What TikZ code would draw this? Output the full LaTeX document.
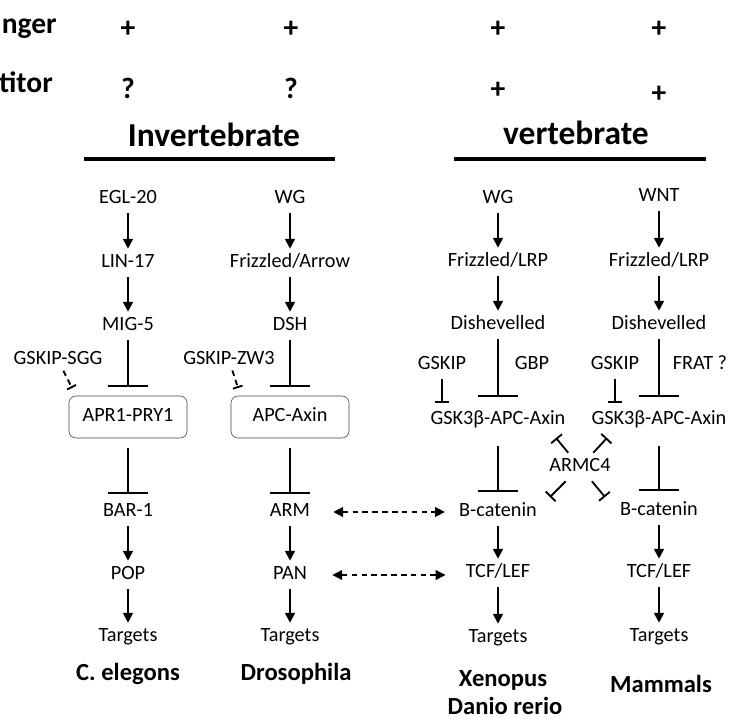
\documentclass[tikz,border=0pt]{standalone}
\usepackage{fontspec}
\setmainfont{Carlito}
\usetikzlibrary{arrows.meta, calc}

\begin{document}
\begin{tikzpicture}[
  every node/.style={font=\fontsize{14.4}{17}\selectfont},
  gene/.style={
    inner sep=0pt, text height=0.65em, text depth=0pt,
    minimum height=0.7cm
  },
  complex/.style={
    gene, draw=black!75, thin, rounded corners=5pt,
    minimum width=2.95cm, minimum height=1.05cm
  },
  heading/.style={font=\fontsize{23.8}{28}\selectfont\bfseries, anchor=base, inner sep=0pt},
  sign/.style={font=\fontsize{21}{25}\selectfont\bfseries, anchor=base, inner sep=0pt},
  species/.style={font=\fontsize{17.5}{21}\selectfont\bfseries, anchor=base, inner sep=0pt},
  act/.style={-{Triangle[width=7pt, length=7pt]}, line width=1.3pt},
  inh/.style={-{Bar[width=1cm]}, line width=1.3pt},
  inhs/.style={-{Bar[width=0.35cm]}, line width=1.3pt},
  inhd/.style={-{Bar[width=0.25cm]}, line width=1.3pt, dash pattern=on 4pt off 3pt},
  link/.style={
    {Triangle[width=7pt, length=7pt]}-{Triangle[width=7pt, length=7pt]},
    line width=1pt, dash pattern=on 4pt off 3pt
  },
  rule/.style={line width=2.5pt}
]
\useasboundingbox (0,0) rectangle (18.35,-17.975);

% ---- Row labels and signs (top) ----
\node[sign, anchor=base east] (rowA) at (1.425,-0.83) {nger};
\node[sign, anchor=base east] (rowB) at (1.325,-2.3) {titor};

\node[sign] (plusA) at (3.2,-0.925) {+};
\node[sign] (plusB) at (7.275,-0.925) {+};
\node[sign] (plusC) at (12.45,-0.925) {+};
\node[sign] (plusD) at (16.475,-0.925) {+};

\node[sign] (askA) at (3.2,-2.45) {?};
\node[sign] (askB) at (7.275,-2.45) {?};
\node[sign] (plusE) at (12.45,-2.45) {+};
\node[sign] (plusF) at (16.475,-2.55) {+};

% ---- Group headings ----
\node[heading] (invert) at (5.35,-3.65) {Invertebrate};
\node[heading] (vert) at (14.4,-3.62) {vertebrate};
\draw[rule] (2.1,-3.975) -- (8.375,-3.975);
\draw[rule] (11.35,-3.975) -- (17.65,-3.975);

% ---- C. elegons ----
\node[gene] (egl) at (3.2,-4.975) {EGL-20};
\node[gene] (lin) at (3.2,-6.575) {LIN-17};
\node[gene] (mig) at (3.2,-8.15) {MIG-5};
\node[gene] (sgg) at (1.45,-9.0) {GSKIP-SGG};
\node[complex] (apr) at (3.2,-10.425) {APR1-PRY1};
\node[gene] (bar) at (3.2,-12.8) {BAR-1};
\node[gene] (pop) at (3.2,-14.375) {POP};
\node[gene] (tgtA) at (3.2,-15.925) {Targets};
\node[species] (cel) at (3.2,-17.0) {C. elegons};

% ---- Drosophila ----
\node[gene] (wgA) at (7.25,-4.975) {WG};
\node[gene] (fzA) at (7.25,-6.575) {Frizzled/Arrow};
\node[gene] (dsh) at (7.25,-8.15) {DSH};
\node[gene] (zw3) at (5.725,-9.0) {GSKIP-ZW3};
\node[complex] (apc) at (7.25,-10.425) {APC-Axin};
\node[gene] (arm) at (7.25,-12.8) {ARM};
\node[gene] (pan) at (7.25,-14.375) {PAN};
\node[gene] (tgtB) at (7.25,-15.925) {Targets};
\node[species] (dro) at (7.4,-17.0) {Drosophila};

% ---- Xenopus / Danio rerio ----
\node[gene] (wgB) at (12.45,-4.975) {WG};
\node[gene] (fzB) at (12.45,-6.55) {Frizzled/LRP};
\node[gene] (dvB) at (12.45,-8.125) {Dishevelled};
\node[gene] (gskipB) at (11.05,-9.125) {GSKIP};
\node[gene] (gbp) at (13.3,-9.125) {GBP};
\node[gene] (gskB) at (12.45,-10.5) {GSK3β-APC-Axin};
\node[gene] (bcatB) at (12.45,-12.8) {B-catenin};
\node[gene] (tcfB) at (12.45,-14.325) {TCF/LEF};
\node[gene] (tgtC) at (12.45,-15.95) {Targets};
\node[species] (xen) at (12.575,-17.15) {Xenopus};
\node[species] (dan) at (12.625,-17.85) {Danio rerio};

% ---- Mammals ----
\node[gene] (wnt) at (16.475,-4.925) {WNT};
\node[gene] (fzC) at (16.475,-6.55) {Frizzled/LRP};
\node[gene] (dvC) at (16.475,-8.125) {Dishevelled};
\node[gene] (gskipC) at (15.375,-9.125) {GSKIP};
\node[gene] (frat) at (17.5,-9.125) {FRAT ?};
\node[gene] (gskC) at (16.475,-10.5) {GSK3β-APC-Axin};
\node[gene] (bcatC) at (16.475,-12.775) {B-catenin};
\node[gene] (tcfC) at (16.475,-14.325) {TCF/LEF};
\node[gene] (tgtD) at (16.475,-15.925) {Targets};
\node[species] (mam) at (16.525,-17.3) {Mammals};

% ---- ARMC4 and where the bars land ----
\node[gene] (armc) at (14.5,-11.675) {ARMC4};
\coordinate (hitTL) at (13.9,-10.95);
\coordinate (hitTR) at (15.175,-10.95);
\coordinate (hitBL) at (13.75,-12.425);
\coordinate (hitBR) at (15.125,-12.425);
\coordinate (hitSGG) at (1.8,-9.7);
\coordinate (hitZW3) at (5.95,-9.7);

% ---- Arrows: C. elegons ----
\draw[act] (egl) -- (lin);
\draw[act] (lin) -- (mig);
\draw[inh, shorten >=0.22cm] (mig) -- (apr);
\draw[inhd, shorten <=-0.1cm] (sgg) -- (hitSGG);
\draw[inh, shorten <=0.25cm, shorten >=0.1cm] (apr) -- (bar);
\draw[act] (bar) -- (pop);
\draw[act] (pop) -- (tgtA);

% ---- Arrows: Drosophila ----
\draw[act] (wgA) -- (fzA);
\draw[act] (fzA) -- (dsh);
\draw[inh, shorten >=0.22cm] (dsh) -- (apc);
\draw[inhd, shorten <=-0.1cm] (zw3) -- (hitZW3);
\draw[inh, shorten <=0.25cm, shorten >=0.1cm] (apc) -- (arm);
\draw[act] (arm) -- (pan);
\draw[act] (pan) -- (tgtB);

% ---- Arrows: Xenopus ----
\draw[act] (wgB) -- (fzB);
\draw[act] (fzB) -- (dvB);
\draw[inh, shorten >=0.22cm] (dvB) -- (gskB);
\draw[inhs, shorten >=0.08cm] (gskipB) -- (gskipB |- gskB.north);
\draw[inh, shorten <=0.3cm, shorten >=0.15cm] (gskB) -- (bcatB);
\draw[act] (bcatB) -- (tcfB);
\draw[act] (tcfB) -- (tgtC);

% ---- Arrows: Mammals ----
\draw[act] (wnt) -- (fzC);
\draw[act] (fzC) -- (dvC);
\draw[inh, shorten >=0.22cm] (dvC) -- (gskC);
\draw[inhs, shorten >=0.08cm] (gskipC) -- (gskipC |- gskC.north);
\draw[inh, shorten <=0.3cm, shorten >=0.15cm] (gskC) -- (bcatC);
\draw[act] (bcatC) -- (tcfC);
\draw[act] (tcfC) -- (tgtD);

% ---- ARMC4 inhibits both complexes ----
\draw[inhs] (armc) -- (hitTL);
\draw[inhs] (armc) -- (hitTR);
\draw[inhs] (armc) -- (hitBL);
\draw[inhs] (armc) -- (hitBR);

% ---- Homologues across groups ----
\draw[link, shorten <=0.575cm, shorten >=0.35cm] (arm.east) -- (bcatB.west);
\draw[link, shorten <=0.63cm, shorten >=0.5cm] (pan.east) -- (pan.east -| tcfB.west);

\end{tikzpicture}
\end{document}
